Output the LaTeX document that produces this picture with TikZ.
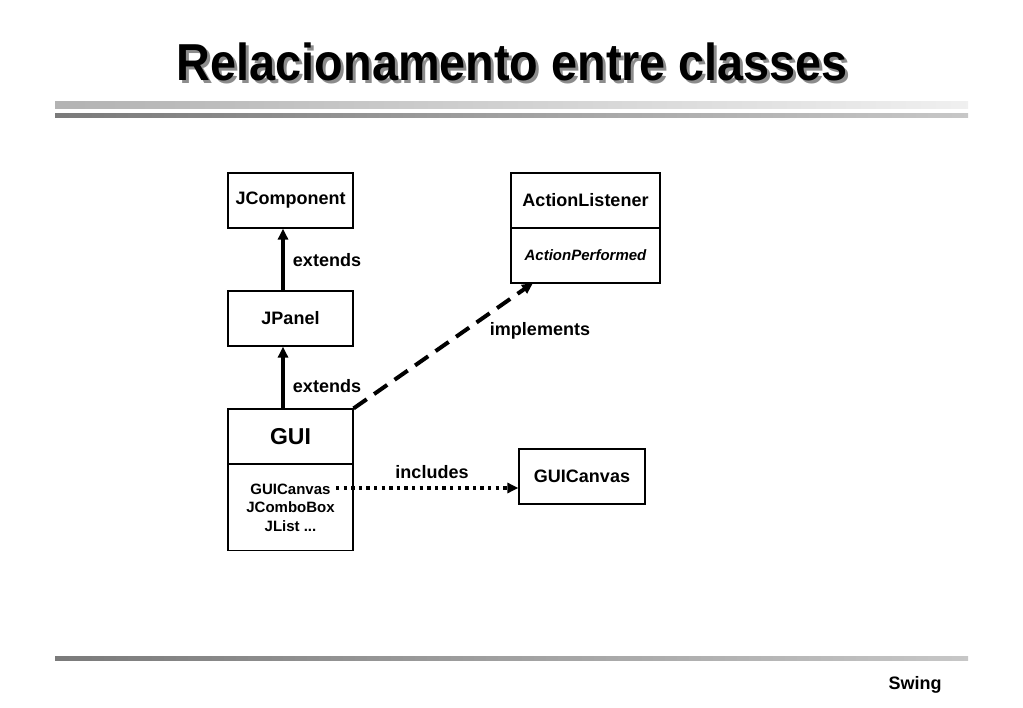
\documentclass[tikz,border=0pt]{standalone}
\usepackage{fontspec}
\setmainfont{Liberation Sans}
\usetikzlibrary{arrows.meta}

\begin{document}
\begin{tikzpicture}[
    x=1pt, y=-1pt,
    classbox/.style={rectangle, draw, line width=1.2pt, minimum width=125pt, minimum height=55pt, inner sep=0pt, font=\fontsize{18}{20}\selectfont\bfseries},
    rel/.style={line width=4pt},
    lbl/.style={font=\fontsize{18}{20}\selectfont\bfseries},
    >={Triangle[length=11pt,width=10pt]}
]
\useasboundingbox (0,0) rectangle (1023,708);

% title and bars
\node[anchor=base, text=black!45, font=\fontsize{52}{56}\selectfont\bfseries] (titleshadow) at (515.5,84) {\scalebox{0.9}[1]{Relacionamento entre classes}};
\node[anchor=base, font=\fontsize{52}{56}\selectfont\bfseries] (title) at (512.5,81) {\scalebox{0.9}[1]{Relacionamento entre classes}};
\shade[left color=black!30, right color=black!6] (55,102) rectangle (968,109);
\shade[left color=black!52, right color=black!22] (55,114) rectangle (968,118);
\shade[left color=black!52, right color=black!22] (55,656) rectangle (968,660);
\node[lbl] (swing) at (915,685) {Swing};

\node[classbox] (jcomp) at (290.5,200.5) {JComponent};
\node[classbox] (jpanel) at (290.5,318.5) {JPanel};
\node[classbox, font=\fontsize{23}{25}\selectfont\bfseries] (gui) at (290.5,436.5) {GUI};
\node[classbox, minimum height=86pt, align=center, font=\fontsize{15}{18.5}\selectfont\bfseries] (guiparts) at (290.5,507.5) {GUICanvas\\JComboBox\\JList ...};
\node[classbox, minimum width=149pt] (listener) at (585.5,200.5) {ActionListener};
\node[classbox, minimum width=149pt, font=\fontsize{15}{17}\selectfont\bfseries\itshape] (performed) at (585.5,255.5) {ActionPerformed};
\node[classbox, minimum width=126pt] (canvas) at (582,476.5) {GUICanvas};

\coordinate (ext) at (283,0);
\coordinate (implto) at (533,283);
\coordinate (inclfrom) at (336,488);

\draw[rel,->] (jpanel.north -| ext) -- (jcomp.south -| ext);
\draw[rel,->] (gui.north -| ext) -- (jpanel.south -| ext);
\draw[rel,->,dash pattern=on 16pt off 9pt] (gui.north east) -- (implto);
\draw[line width=3.4pt,dash pattern=on 3.4pt off 4.2pt,->] (inclfrom) -- (canvas.west |- inclfrom);

\node[lbl] at (327,260) {extends};
\node[lbl] at (327,386) {extends};
\node[lbl] at (540,331) {implements};
\node[lbl] at (432,472) {includes};
\end{tikzpicture}
\end{document}
